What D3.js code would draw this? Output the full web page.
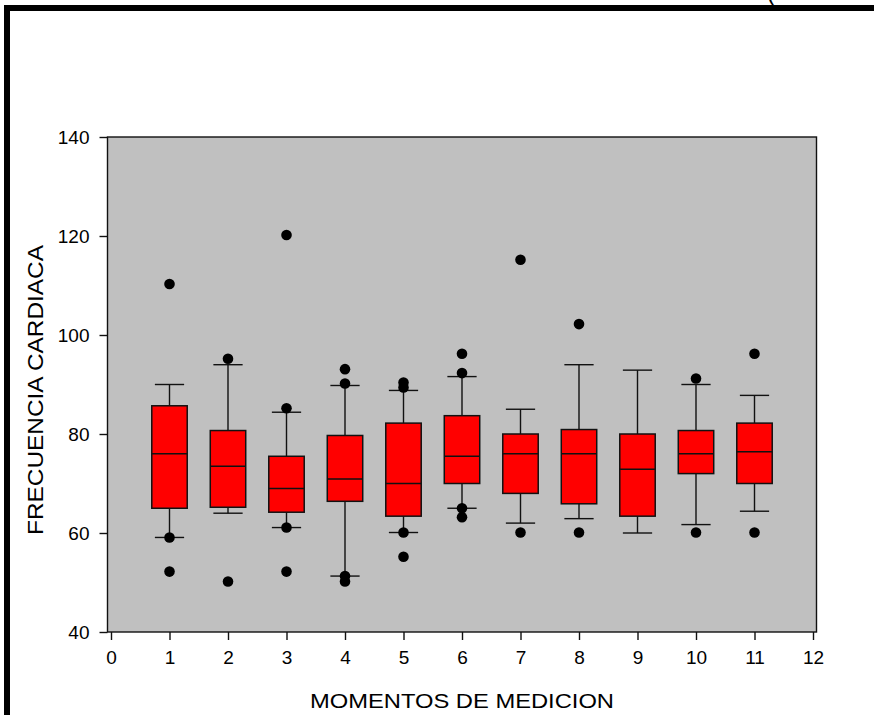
<!DOCTYPE html>
<html>
<head>
<meta charset="utf-8">
<script src="https://cdn.jsdelivr.net/npm/d3@7"></script>
<style>
  html, body { margin: 0; padding: 0; background: #fff; }
  svg { display: block; }
  text { font-family: "Liberation Sans", Arial, sans-serif; fill: #000; }
</style>
</head>
<body>
<svg id="chart" width="874" height="715"></svg>
<script>
// ---- data ----
const moments     = [1, 2, 3, 4, 5, 6, 7, 8, 9, 10, 11];
const whiskerLow  = [59.1, 64.0, 61.1, 51.3, 60.1, 65.0, 62.0, 62.9, 60.0, 61.7, 64.4];
const q1          = [65.0, 65.2, 64.2, 66.4, 63.4, 70.0, 68.0, 65.9, 63.4, 72.0, 70.0];
const medians     = [76.0, 73.5, 69.0, 70.9, 70.0, 75.5, 76.0, 76.0, 72.9, 76.0, 76.4];
const q3          = [85.7, 80.7, 75.5, 79.7, 82.2, 83.7, 80.0, 80.9, 80.0, 80.7, 82.2];
const whiskerHigh = [90.0, 94.0, 84.4, 89.8, 88.8, 91.6, 85.0, 94.0, 92.9, 90.0, 87.8];
const outliers    = [
  [110.3, 59.1, 52.2],
  [95.2, 50.2],
  [120.2, 85.2, 61.1, 52.2],
  [93.1, 90.2, 51.3, 50.2],
  [90.4, 89.4, 60.1, 55.2],
  [96.2, 92.3, 65.0, 63.2],
  [115.2, 60.1],
  [102.2, 60.1],
  [],
  [91.2, 60.1],
  [96.2, 60.1]
];
const xTicks = [0, 1, 2, 3, 4, 5, 6, 7, 8, 9, 10, 11, 12];
const yTicks = [40, 60, 80, 100, 120, 140];
const xTitle = "MOMENTOS DE MEDICION";
const yTitle = "FRECUENCIA CARDIACA";

// ---- layout ----
const svg = d3.select("#chart");
const plot = { left: 107.5, right: 816.5, top: 137, bottom: 632 };
const x = d3.scaleLinear().domain([0, 12]).range([111, 813]);
const y = d3.scaleLinear().domain([40, 140]).range([plot.bottom, plot.top]);
const boxHalf = 0.303;  // in x units
const capHalf = 0.25;

// outer frame (thick black) with the clipped glyph above it
svg.append("text").attr("x", 767).attr("y", 1).attr("font-size", 24).text("(");
svg.append("path")
  .attr("d", `M7,715 L7,8 L874,8`)
  .attr("fill", "none").attr("stroke", "#000").attr("stroke-width", 6)
  .attr("stroke-linejoin", "miter");

// plot background
svg.append("rect")
  .attr("x", plot.left).attr("y", plot.top)
  .attr("width", plot.right - plot.left).attr("height", plot.bottom - plot.top)
  .attr("fill", "#c0c0c0");

const data = moments.map((m, i) => ({
  m, lo: whiskerLow[i], q1: q1[i], med: medians[i], q3: q3[i], hi: whiskerHigh[i], out: outliers[i]
}));

const g = svg.append("g");
const bx = g.selectAll("g.box").data(data).join("g").attr("class", "box");

// whiskers
bx.append("line")
  .attr("x1", d => x(d.m)).attr("x2", d => x(d.m))
  .attr("y1", d => y(d.q3)).attr("y2", d => y(d.hi))
  .attr("stroke", "#111").attr("stroke-width", 1.4);
bx.append("line")
  .attr("x1", d => x(d.m)).attr("x2", d => x(d.m))
  .attr("y1", d => y(d.q1)).attr("y2", d => y(d.lo))
  .attr("stroke", "#111").attr("stroke-width", 1.4);
// caps
bx.append("line")
  .attr("x1", d => x(d.m - capHalf)).attr("x2", d => x(d.m + capHalf))
  .attr("y1", d => y(d.hi)).attr("y2", d => y(d.hi))
  .attr("stroke", "#111").attr("stroke-width", 1.4);
bx.append("line")
  .attr("x1", d => x(d.m - capHalf)).attr("x2", d => x(d.m + capHalf))
  .attr("y1", d => y(d.lo)).attr("y2", d => y(d.lo))
  .attr("stroke", "#111").attr("stroke-width", 1.4);
// box
bx.append("rect")
  .attr("x", d => x(d.m - boxHalf)).attr("width", d => x(d.m + boxHalf) - x(d.m - boxHalf))
  .attr("y", d => y(d.q3)).attr("height", d => y(d.q1) - y(d.q3))
  .attr("fill", "#ff0000").attr("stroke", "#111").attr("stroke-width", 1.5);
// median
bx.append("line")
  .attr("x1", d => x(d.m - boxHalf)).attr("x2", d => x(d.m + boxHalf))
  .attr("y1", d => y(d.med)).attr("y2", d => y(d.med))
  .attr("stroke", "#111").attr("stroke-width", 1.5);
// outliers
bx.selectAll("circle").data(d => d.out.map(v => ({ m: d.m, v })))
  .join("circle")
  .attr("cx", d => x(d.m)).attr("cy", d => y(d.v)).attr("r", 5.3)
  .attr("fill", "#000");

// plot border
svg.append("rect")
  .attr("x", plot.left).attr("y", plot.top)
  .attr("width", plot.right - plot.left).attr("height", plot.bottom - plot.top)
  .attr("fill", "none").attr("stroke", "#111").attr("stroke-width", 1.4);

// axes
const xAxis = d3.axisBottom(x).tickValues(xTicks).tickSize(8).tickPadding(11).tickFormat(d3.format("d"));
const xg = svg.append("g").attr("transform", `translate(0,${plot.bottom})`).call(xAxis);
xg.select(".domain").remove();
xg.selectAll("line").attr("stroke", "#111").attr("stroke-width", 1.4);
xg.selectAll("text").attr("font-size", 19).attr("font-family", '"Liberation Sans", Arial, sans-serif').attr("fill", "#000");

const yAxis = d3.axisLeft(y).tickValues(yTicks).tickSize(8).tickPadding(10).tickFormat(d3.format("d"));
const yg = svg.append("g").attr("transform", `translate(${plot.left},0)`).call(yAxis);
yg.select(".domain").remove();
yg.selectAll("line").attr("stroke", "#111").attr("stroke-width", 1.4);
yg.selectAll("text").attr("font-size", 19).attr("font-family", '"Liberation Sans", Arial, sans-serif').attr("fill", "#000");

// titles
svg.append("text")
  .attr("x", 462).attr("y", 707.5).attr("text-anchor", "middle")
  .attr("font-size", 20.5).attr("textLength", 304).attr("lengthAdjust", "spacingAndGlyphs")
  .text(xTitle);
svg.append("text")
  .attr("transform", "translate(43,390) rotate(-90)")
  .attr("text-anchor", "middle")
  .attr("font-size", 22).attr("textLength", 290).attr("lengthAdjust", "spacingAndGlyphs")
  .text(yTitle);
</script>
</body>
</html>
